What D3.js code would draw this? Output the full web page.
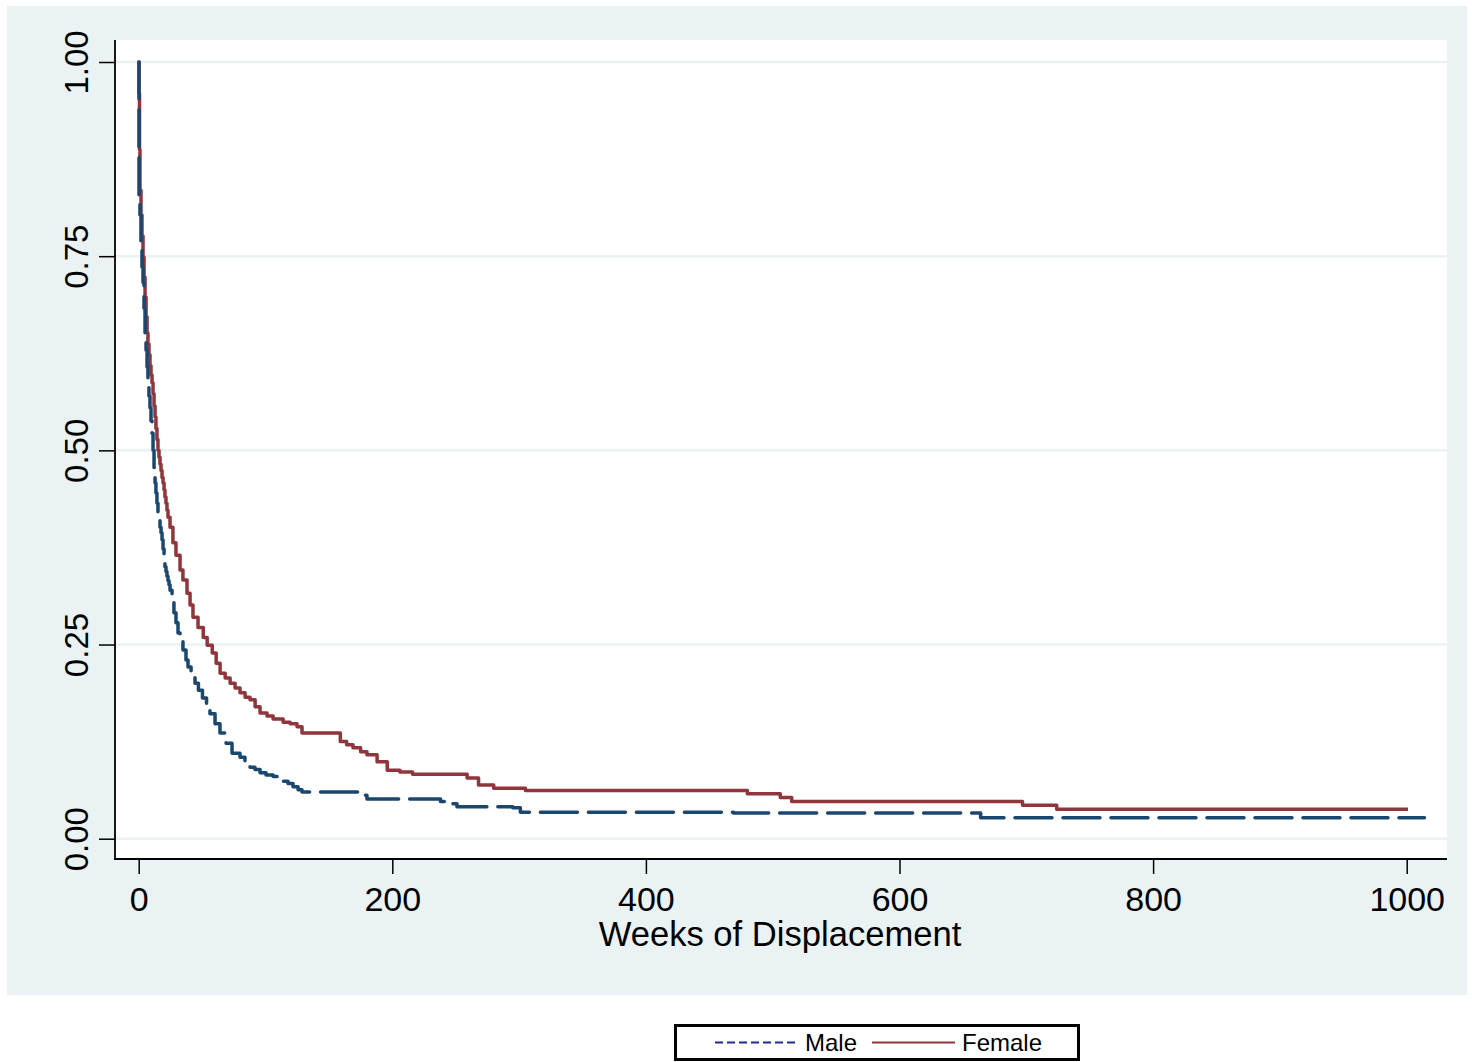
<!DOCTYPE html>
<html>
<head>
<meta charset="utf-8">
<script src="https://cdn.jsdelivr.net/npm/d3@7"></script>
<style>
  html, body { margin: 0; padding: 0; background: #ffffff; }
  svg { display: block; }
  text { font-family: "Liberation Sans", Arial, Helvetica, sans-serif; fill: #000; }
</style>
</head>
<body>
<svg id="chart" width="1472" height="1062"></svg>
<script>
// ---- Data ----
const xTicks = [0, 200, 400, 600, 800, 1000];
const yTicks = [0, 0.25, 0.5, 0.75, 1];
const xTitle = "Weeks of Displacement";
const seriesNames = ["Male", "Female"];

const maleTime = [0, 0.24, 1.0, 1.8, 2.6, 3.4, 4.2, 5.0, 5.8, 6.6, 7.3, 8.1, 8.9, 9.7, 10.5, 11.3, 12.1, 12.9, 13.6, 14.4, 15.2, 16.0, 16.8, 17.6, 18.4, 19.2, 20.0, 20.7, 21.5, 22.3, 23.1, 23.9, 24.7, 26.3, 27.8, 29.4, 31.0, 32.6, 34.9, 37.3, 38.9, 41.3, 44.4, 47.1, 50.3, 53.5, 56.2, 60.2, 64.1, 68.9, 73.6, 79.9, 83.8, 87.8, 91.7, 95.7, 100.4, 106, 109.9, 113.9, 117.8, 121.7, 125.7, 128.8, 177, 180, 238, 246, 251, 295, 301, 469, 664, 1014];
const maleSurv = [1.0, 0.826, 0.803, 0.758, 0.736, 0.716, 0.683, 0.651, 0.629, 0.607, 0.587, 0.570, 0.555, 0.538, 0.522, 0.500, 0.478, 0.458, 0.445, 0.432, 0.419, 0.410, 0.401, 0.394, 0.385, 0.373, 0.362, 0.350, 0.344, 0.338, 0.332, 0.327, 0.320, 0.306, 0.291, 0.278, 0.265, 0.256, 0.243, 0.230, 0.221, 0.212, 0.200, 0.191, 0.181, 0.171, 0.161, 0.148, 0.136, 0.123, 0.110, 0.105, 0.098, 0.092, 0.089, 0.085, 0.082, 0.080, 0.076, 0.074, 0.071, 0.067, 0.063, 0.060, 0.056, 0.051, 0.048, 0.045, 0.041, 0.040, 0.034, 0.033, 0.027, 0.027];

const femaleTime = [0, 0.24, 0.63, 1.0, 1.8, 2.6, 3.4, 4.2, 5.0, 5.8, 6.6, 7.3, 8.1, 8.9, 9.7, 10.5, 11.3, 12.1, 12.9, 13.6, 14.4, 15.2, 16.0, 16.8, 17.6, 18.4, 19.2, 20.0, 20.7, 21.5, 22.3, 23.1, 24.7, 27.0, 29.4, 32.6, 34.9, 38.1, 40.5, 42.8, 46.8, 50.9, 54.0, 58.0, 61.1, 64.2, 68.2, 72.1, 76.0, 79.9, 83.9, 87.8, 91.8, 95.7, 101.2, 106, 113.9, 119.4, 124.9, 128.8, 159, 164, 169, 175, 180, 188, 196, 206, 216, 259, 268, 280, 305, 480, 506, 515, 697, 724, 1001];
const femaleSurv = [1.0, 0.960, 0.887, 0.835, 0.803, 0.776, 0.749, 0.723, 0.697, 0.672, 0.651, 0.637, 0.623, 0.609, 0.597, 0.587, 0.573, 0.557, 0.543, 0.528, 0.514, 0.500, 0.491, 0.482, 0.474, 0.465, 0.458, 0.449, 0.440, 0.432, 0.423, 0.414, 0.401, 0.381, 0.365, 0.346, 0.333, 0.316, 0.301, 0.285, 0.272, 0.259, 0.249, 0.239, 0.226, 0.213, 0.207, 0.200, 0.194, 0.188, 0.182, 0.179, 0.170, 0.162, 0.158, 0.154, 0.150, 0.148, 0.144, 0.136, 0.125, 0.121, 0.117, 0.112, 0.108, 0.099, 0.088, 0.086, 0.083, 0.078, 0.069, 0.065, 0.062, 0.058, 0.053, 0.048, 0.043, 0.038, 0.038];

// ---- Layout ----
const svg = d3.select("#chart");
const W = 1472, H = 1062;
const plotL = 115, plotR = 1447, plotT = 40, plotB = 859;

const x = d3.scaleLinear().domain([0, 1000]).range([138.7, 1406.7]);
const y = d3.scaleLinear().domain([0, 1]).range([838.7, 62]);

// outer background
svg.append("rect").attr("x", 0).attr("y", 0).attr("width", W).attr("height", H).attr("fill", "#ffffff");
svg.append("rect").attr("x", 7).attr("y", 6).attr("width", 1460).attr("height", 989).attr("fill", "#EAF2F3");
// plot region
svg.append("rect").attr("x", plotL).attr("y", plotT).attr("width", plotR - plotL).attr("height", plotB - plotT).attr("fill", "#ffffff");

// gridlines
svg.append("g").selectAll("line").data(yTicks).join("line")
  .attr("x1", plotL).attr("x2", plotR)
  .attr("y1", d => y(d)).attr("y2", d => y(d))
  .attr("stroke", "#EAF2F3").attr("stroke-width", 2.5);

// lines
const line = d3.line().x(d => x(d[0])).y(d => y(d[1])).curve(d3.curveStepAfter);
const maleData = maleTime.map((t, i) => [t, maleSurv[i]]);
const femaleData = femaleTime.map((t, i) => [t, femaleSurv[i]]);

svg.append("path").datum(femaleData).attr("d", line)
  .attr("fill", "none").attr("stroke", "#90353B").attr("stroke-width", 3.5)
  .attr("stroke-linejoin", "round");
svg.append("path").datum(maleData).attr("d", line)
  .attr("fill", "none").attr("stroke", "#1A476F").attr("stroke-width", 3.5)
  .attr("stroke-dasharray", "37,11").attr("stroke-linecap", "round")
  .attr("stroke-linejoin", "round");

// axes
const yAxis = d3.axisLeft(y).tickValues(yTicks).tickSize(16).tickPadding(12).tickFormat(d3.format(".2f"));
const gy = svg.append("g").attr("transform", `translate(${plotL},0)`).call(yAxis);
gy.select(".domain").remove();
gy.selectAll(".tick line").attr("stroke", "#000").attr("stroke-width", 1.5);
gy.selectAll(".tick text")
  .attr("x", null).attr("dy", null)
  .attr("transform", "translate(-27,0) rotate(-90)")
  .attr("text-anchor", "middle")
  .style("font-size", "33px")
  .style("font-family", '"Liberation Sans", Arial, sans-serif')
  .attr("fill", "#000");

const xAxis = d3.axisBottom(x).tickValues(xTicks).tickSize(15).tickPadding(12).tickFormat(d3.format("d"));
const gx = svg.append("g").attr("transform", `translate(0,${plotB})`).call(xAxis);
gx.select(".domain").remove();
gx.selectAll(".tick line").attr("stroke", "#000").attr("stroke-width", 1.5);
gx.selectAll(".tick text")
  .attr("dy", null).attr("y", 52)
  .style("font-size", "34px")
  .style("font-family", '"Liberation Sans", Arial, sans-serif')
  .attr("fill", "#000");

// axis lines
svg.append("line").attr("x1", plotL).attr("x2", plotL).attr("y1", plotT).attr("y2", plotB + 0.75)
  .attr("stroke", "#000").attr("stroke-width", 1.8);
svg.append("line").attr("x1", plotL - 0.9).attr("x2", plotR).attr("y1", plotB).attr("y2", plotB)
  .attr("stroke", "#000").attr("stroke-width", 1.8);

// x title
svg.append("text").attr("x", (plotL + plotR) / 2 - 1).attr("y", 946)
  .attr("text-anchor", "middle").style("font-size", "34.6px").text(xTitle);

// legend
const lg = svg.append("g");
lg.append("rect").attr("x", 675.5).attr("y", 1025.5).attr("width", 403).attr("height", 34)
  .attr("fill", "#ffffff").attr("stroke", "#000").attr("stroke-width", 3);
lg.append("line").attr("x1", 715).attr("x2", 797).attr("y1", 1042.5).attr("y2", 1042.5)
  .attr("stroke", "#1F2A9A").attr("stroke-width", 2).attr("stroke-dasharray", "8,4");
lg.append("text").attr("x", 805).attr("y", 1051).style("font-size", "24px").text(seriesNames[0]);
lg.append("line").attr("x1", 872).attr("x2", 955).attr("y1", 1042.5).attr("y2", 1042.5)
  .attr("stroke", "#90353B").attr("stroke-width", 2);
lg.append("text").attr("x", 962).attr("y", 1051).style("font-size", "24px").text(seriesNames[1]);
</script>
</body>
</html>
